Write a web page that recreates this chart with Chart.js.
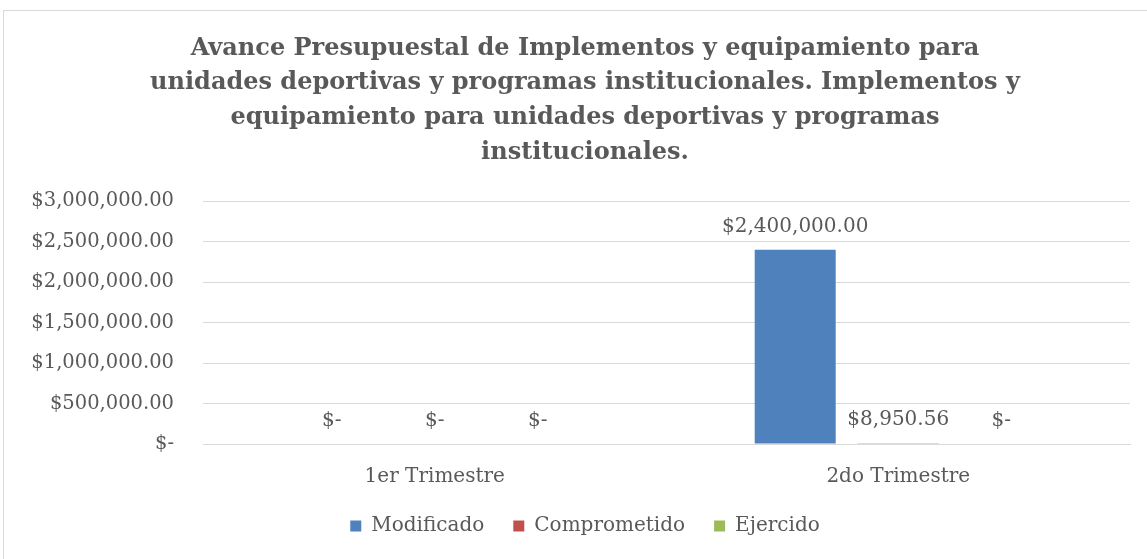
<!DOCTYPE html>
<html><head><meta charset="utf-8">
<script src="https://cdn.jsdelivr.net/npm/chart.js@4/dist/chart.umd.min.js"></script>
<style>
html,body{margin:0;padding:0;background:#fff;}
#wrap{position:absolute;left:0;top:0;width:1147px;height:559px;}
#frame{position:absolute;left:3px;top:10px;width:1150px;height:560px;border:1px solid #D9D9D9;box-sizing:border-box;}
</style></head>
<body>
<div id="frame"></div>
<div id="wrap"><canvas id="c" width="1147" height="559"></canvas></div>
<script>
const categories = ['1er Trimestre', '2do Trimestre'];
const modificado = [0, 2400000];
const comprometido = [0, 8950.56];
const ejercido = [0, 0];
const titleLines = [
  'Avance Presupuestal de Implementos y equipamiento para',
  'unidades deportivas y programas institucionales. Implementos y',
  'equipamiento para unidades deportivas y programas',
  'institucionales.'
];
const yTicks = [0, 500000, 1000000, 1500000, 2000000, 2500000, 3000000];

const SERIF = "'DejaVu Serif', serif";
const TXT = '#595959';
function fmt(v){
  if (v === 0) return '$-';
  return '$' + v.toLocaleString('en-US',{minimumFractionDigits:2, maximumFractionDigits:2});
}
const labelPlugin = {
  id:'vlabels',
  afterLayout(chart){
    const y = chart.scales.y;
    y.width = y.right - 4;
    y.left = 4;
  },
  afterDatasetsDraw(chart){
    const ctx = chart.ctx;
    ctx.save();
    ctx.font = "20px " + SERIF;
    ctx.fillStyle = TXT;
    ctx.textAlign = 'center';
    ctx.textBaseline = 'middle';
    chart.data.datasets.forEach((ds, i) => {
      const meta = chart.getDatasetMeta(i);
      meta.data.forEach((el, j) => {
        ctx.fillText(fmt(ds.data[j]), el.x, el.y - 23);
      });
    });
    ctx.restore();
  }
};
new Chart(document.getElementById('c'), {
  type:'bar',
  data:{
    labels: categories,
    datasets:[
      {label:'Modificado', data: modificado, backgroundColor:'#4F81BD'},
      {label:'Comprometido', data: comprometido, backgroundColor:'#C0504D'},
      {label:'Ejercido', data: ejercido, backgroundColor:'#9BBB59'}
    ]
  },
  options:{
    responsive:false, animation:false,
    layout:{padding:{left:40, right:17, top:0, bottom:13}},
    datasets:{bar:{categoryPercentage:0.667, barPercentage:0.786}},
    plugins:{
      title:{display:true, text:titleLines, color:TXT,
        font:{family:SERIF, size:24, weight:'bold', lineHeight:1.45},
        padding:{top:31, bottom:31}},
      legend:{position:'bottom', labels:{color:TXT, font:{family:SERIF, size:20},
        boxWidth:11, boxHeight:11, padding:29}},
      tooltip:{enabled:false}
    },
    scales:{
      x:{grid:{display:false}, border:{display:true, color:'#D9D9D9', width:1},
        afterFit(s){ s.height -= 15; },
        ticks:{color:TXT, font:{family:SERIF, size:20}, padding:13}},
      y:{min:0, max:3000000, grid:{color:'#D9D9D9', drawTicks:false}, border:{display:false},
        afterFit(s){ s.width = 163; },
        afterBuildTicks(s){ s.ticks = yTicks.map(v => ({value:v})); },
        ticks:{color:TXT, font:{family:SERIF, size:19.5}, padding:29, callback:(v)=>fmt(v)}}
    }
  },
  plugins:[labelPlugin]
});
</script>
</body></html>
